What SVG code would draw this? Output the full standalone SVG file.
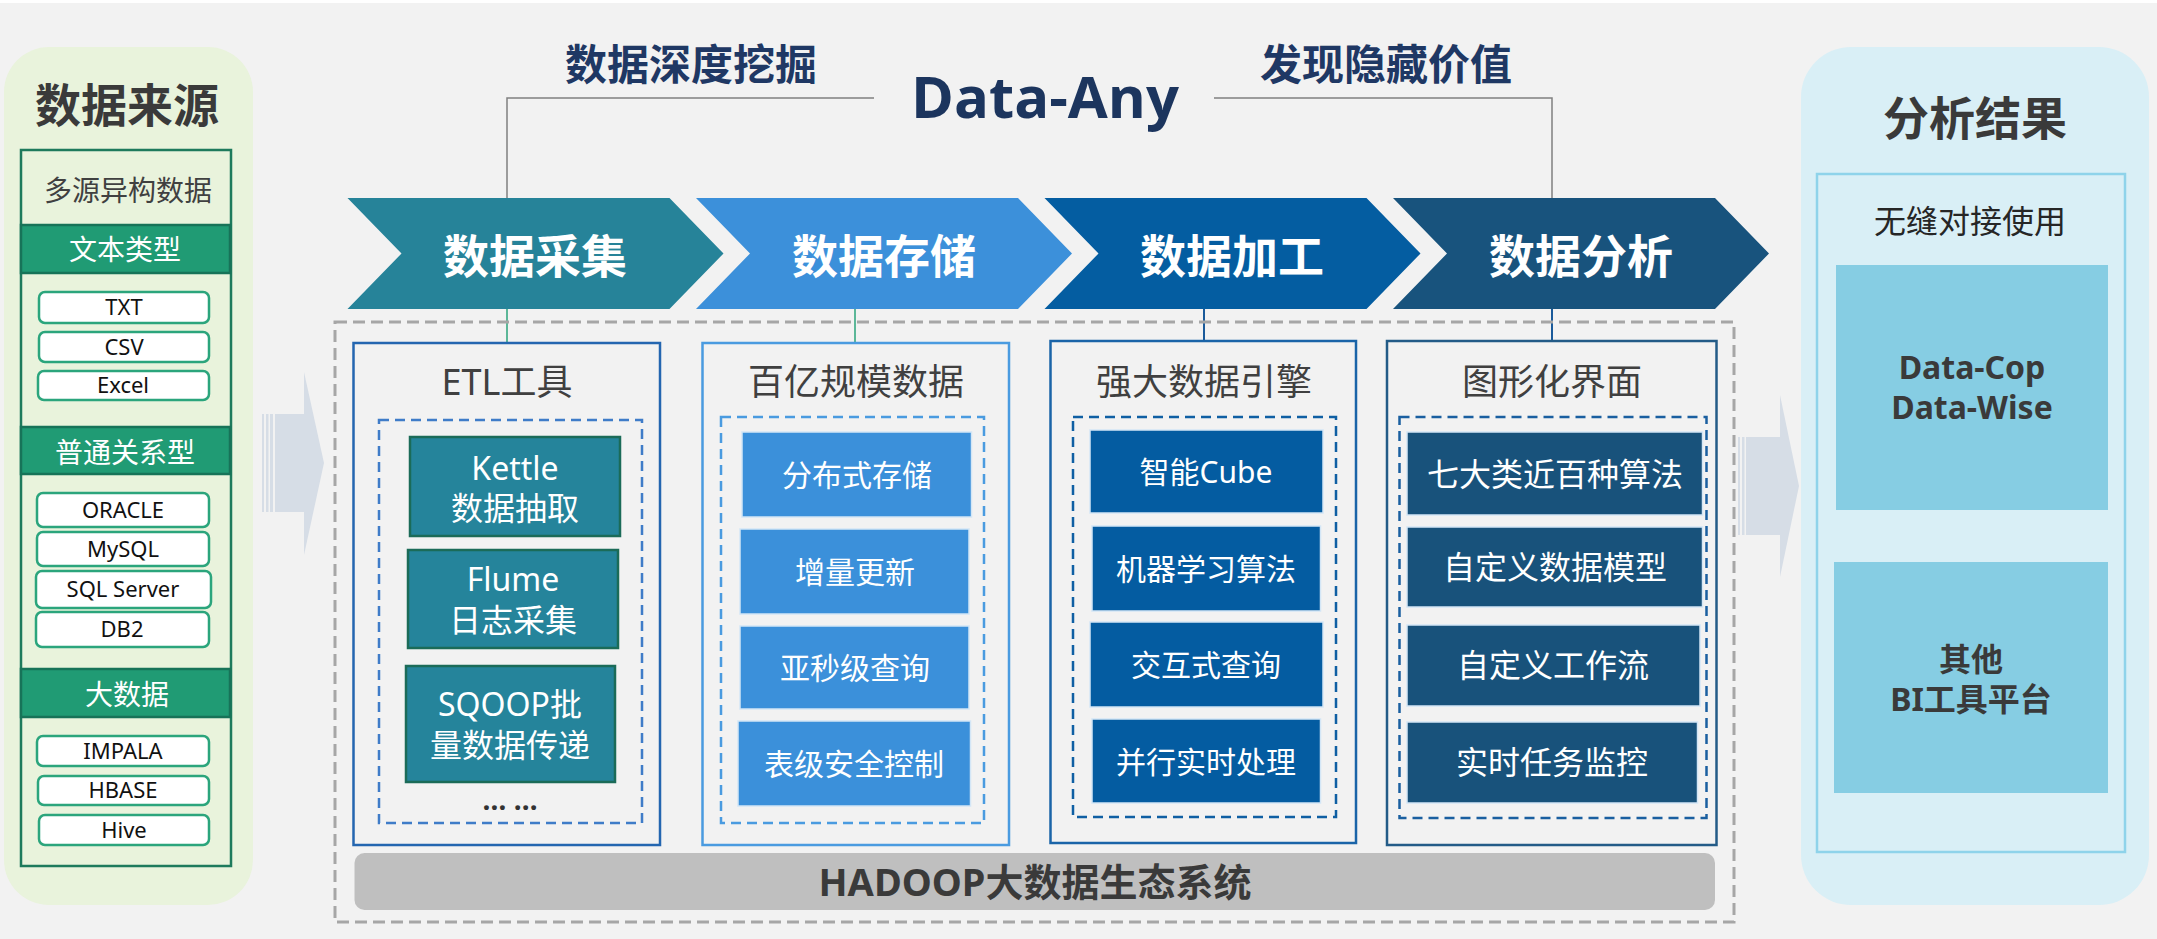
<svg xmlns="http://www.w3.org/2000/svg" width="2157" height="939" viewBox="0 0 2157 939">
<style>
text{font-family:"Noto Sans","Noto Sans CJK SC",sans-serif;text-anchor:middle}
.b{font-weight:bold}
.ttl{font-size:46px;font-weight:bold;fill:#3a3a3a}
.hd{font-size:42px;font-weight:bold;fill:#1f3864}
.chev{font-size:46px;font-weight:bold;fill:#ffffff}
.ctitle{font-size:36px;fill:#404040}
.it{fill:#ffffff;stroke:#2ba57c;stroke-width:2.5}
.itt{font-size:22px;fill:#111111}
.band{fill:#209b74;stroke:#177358;stroke-width:2.5}
.bandt{font-size:28px;fill:#ffffff}
.w30{font-size:30px;fill:#ffffff}
.w32{font-size:32px;fill:#ffffff}
.c1{fill:#25849b;stroke:#1b6b58;stroke-width:2.5}
.c2{fill:#3b90da;stroke:#d3e6f6;stroke-width:1.5}
.c3{fill:#045ca1;stroke:#d3e6f6;stroke-width:1.5}
.c4{fill:#18527b;stroke:#d3e6f6;stroke-width:1.5}
.arrow{fill:#d6dde6}
.rb{fill:#86cde3}
.rbt{font-size:32px;font-weight:bold;fill:#3a3a3a}
</style>
<rect width="2157" height="939" fill="#f2f2f2"/>
<rect width="2157" height="3" fill="#ffffff"/>

<g id="connectors">
<polyline points="874,98 507,98 507,198" fill="none" stroke="#808080" stroke-width="1.5"/>
<polyline points="1214,98 1552,98 1552,198" fill="none" stroke="#808080" stroke-width="1.5"/>
<line x1="507" y1="309" x2="507" y2="343" stroke="#2aa37a" stroke-width="1.5"/>
<line x1="855" y1="309" x2="855" y2="343" stroke="#2aa37a" stroke-width="1.5"/>
<line x1="1204" y1="309" x2="1204" y2="341" stroke="#1a5a9a" stroke-width="2"/>
<line x1="1552" y1="309" x2="1552" y2="341" stroke="#1a5a9a" stroke-width="2"/>
</g>

<g id="title">
<text class="hd" x="691" y="80">数据深度挖掘</text>
<text x="1045" y="118" style="font-family:'Open Sans','Noto Sans',sans-serif;font-size:58px;font-weight:bold;fill:#1c355e">Data-Any</text>
<text class="hd" x="1386" y="80">发现隐藏价值</text>
</g>

<g id="source-panel">
<rect x="4" y="47" width="249" height="858" rx="45" fill="#e9f3dc"/>
<text class="ttl" x="127" y="122">数据来源</text>
<rect x="21" y="150" width="210" height="716" fill="none" stroke="#1e7a5c" stroke-width="2.5"/>
<text x="128" y="201" style="font-size:28px;fill:#404040">多源异构数据</text>
<rect class="band" x="21" y="225" width="209" height="48"/>
<text class="bandt" x="125" y="260">文本类型</text>
<rect class="it" x="39" y="292" width="170" height="31" rx="6"/><text class="itt" x="124" y="315">TXT</text>
<rect class="it" x="39" y="332" width="170" height="30" rx="6"/><text class="itt" x="124" y="355">CSV</text>
<rect class="it" x="38" y="371" width="171" height="29" rx="6"/><text class="itt" x="123" y="393">Excel</text>
<rect class="band" x="21" y="427" width="209" height="47"/>
<text class="bandt" x="125" y="463">普通关系型</text>
<rect class="it" x="37" y="493" width="172" height="34" rx="6"/><text class="itt" x="123" y="518">ORACLE</text>
<rect class="it" x="37" y="532" width="172" height="34" rx="6"/><text class="itt" x="123" y="557">MySQL</text>
<rect class="it" x="36" y="571" width="175" height="37" rx="6"/><text class="itt" x="123" y="597">SQL Server</text>
<rect class="it" x="36" y="612" width="173" height="35" rx="6"/><text class="itt" x="122" y="637">DB2</text>
<rect class="band" x="21" y="669" width="209" height="48"/>
<text class="bandt" x="127" y="705">大数据</text>
<rect class="it" x="37" y="736" width="172" height="30" rx="6"/><text class="itt" x="123" y="759">IMPALA</text>
<rect class="it" x="38" y="776" width="171" height="29" rx="6"/><text class="itt" x="123" y="798">HBASE</text>
<rect class="it" x="39" y="815" width="170" height="30" rx="6"/><text class="itt" x="124" y="838">Hive</text>
</g>

<g id="arrow-left">
<rect class="arrow" x="262" y="414" width="2" height="98"/>
<rect class="arrow" x="266" y="414" width="2.5" height="98"/>
<rect class="arrow" x="270" y="414" width="3" height="98"/>
<polygon class="arrow" points="275,414 304,414 304,372 324,463 304,555 304,512 275,512"/>
</g>
<g id="arrow-right">
<rect class="arrow" x="1738" y="437" width="2" height="98"/>
<rect class="arrow" x="1742" y="437" width="2.5" height="98"/>
<polygon class="arrow" points="1746,437 1780,437 1780,395 1799,486 1780,577 1780,535 1746,535"/>
</g>

<g id="platform-frame">
<rect x="335" y="322" width="1399" height="600" fill="none" stroke="#a6a6a6" stroke-width="3" stroke-dasharray="12 6"/>
</g>

<g id="chevron-1">
<polygon points="347.5,198 669.5,198 723.5,253.5 669.5,309 347.5,309 401.5,253.5" fill="#268399"/>
<text class="chev" x="535" y="273">数据采集</text>
</g>
<g id="chevron-2">
<polygon points="696,198 1018,198 1072,253.5 1018,309 696,309 750,253.5" fill="#3c90da"/>
<text class="chev" x="884" y="273">数据存储</text>
</g>
<g id="chevron-3">
<polygon points="1044.5,198 1366.5,198 1420.5,253.5 1366.5,309 1044.5,309 1098.5,253.5" fill="#045da1"/>
<text class="chev" x="1232" y="273">数据加工</text>
</g>
<g id="chevron-4">
<polygon points="1393,198 1715,198 1769,253.5 1715,309 1393,309 1447,253.5" fill="#18537d"/>
<text class="chev" x="1581" y="273">数据分析</text>
</g>

<g id="col-etl">
<rect x="353.5" y="343" width="306.5" height="502" fill="none" stroke="#2466b0" stroke-width="2.5"/>
<text class="ctitle" x="507" y="395">ETL工具</text>
<rect x="379" y="420" width="263" height="403" fill="none" stroke="#3f7cc8" stroke-width="2.5" stroke-dasharray="10 6"/>
<rect class="c1" x="410" y="437" width="210" height="99"/>
<text class="w32" x="515" y="480">Kettle</text>
<text class="w32" x="515" y="520">数据抽取</text>
<rect class="c1" x="408" y="550" width="210" height="98"/>
<text class="w32" x="513" y="591">Flume</text>
<text class="w32" x="513" y="632">日志采集</text>
<rect class="c1" x="406" y="666" width="209" height="116"/>
<text class="w32" x="510" y="716">SQOOP批</text>
<text class="w32" x="510" y="757">量数据传递</text>
<text x="510" y="810" style="font-size:28px;font-weight:bold;fill:#333333">… …</text>
</g>

<g id="col-storage">
<rect x="702.5" y="343" width="306.5" height="502" fill="none" stroke="#4a9be0" stroke-width="2.5"/>
<text class="ctitle" x="856" y="395">百亿规模数据</text>
<rect x="721" y="417" width="263" height="406" fill="none" stroke="#4a9be0" stroke-width="2.5" stroke-dasharray="10 6"/>
<rect class="c2" x="742" y="432" width="229.5" height="85"/>
<text class="w30" x="857" y="486">分布式存储</text>
<rect class="c2" x="740" y="529" width="229" height="85"/>
<text class="w30" x="855" y="583">增量更新</text>
<rect class="c2" x="740" y="626" width="229" height="83"/>
<text class="w30" x="855" y="679">亚秒级查询</text>
<rect class="c2" x="738" y="721" width="232.5" height="85"/>
<text class="w30" x="854" y="775">表级安全控制</text>
</g>

<g id="col-engine">
<rect x="1050.5" y="341" width="305.5" height="502" fill="none" stroke="#1a64a8" stroke-width="2.5"/>
<text class="ctitle" x="1204" y="395">强大数据引擎</text>
<rect x="1073" y="417" width="263" height="400" fill="none" stroke="#0f5fa3" stroke-width="2.5" stroke-dasharray="10 6"/>
<rect class="c3" x="1090" y="430" width="233" height="83"/>
<text class="w30" x="1206" y="483">智能Cube</text>
<rect class="c3" x="1092" y="526" width="228.5" height="85"/>
<text class="w30" x="1206" y="580">机器学习算法</text>
<rect class="c3" x="1090" y="622" width="233" height="85"/>
<text class="w30" x="1206" y="676">交互式查询</text>
<rect class="c3" x="1092" y="719" width="228.5" height="84"/>
<text class="w30" x="1206" y="773">并行实时处理</text>
</g>

<g id="col-gui">
<rect x="1387" y="341" width="329.5" height="504" fill="none" stroke="#235b87" stroke-width="2.5"/>
<text class="ctitle" x="1552" y="395">图形化界面</text>
<rect x="1399.5" y="417" width="307" height="401" fill="none" stroke="#1a5fa0" stroke-width="2.5" stroke-dasharray="10 6"/>
<rect class="c4" x="1407" y="432" width="295.5" height="83"/>
<text class="w32" x="1555" y="486">七大类近百种算法</text>
<rect class="c4" x="1407" y="527" width="295.5" height="80"/>
<text class="w32" x="1555" y="579">自定义数据模型</text>
<rect class="c4" x="1407" y="625" width="293" height="81"/>
<text class="w32" x="1553" y="677">自定义工作流</text>
<rect class="c4" x="1407" y="722" width="290.5" height="81"/>
<text class="w32" x="1552" y="774">实时任务监控</text>
</g>

<g id="hadoop">
<rect x="354.5" y="853" width="1360.5" height="57" rx="10" fill="#bfbfbf"/>
<text x="1035" y="896" style="font-size:38px;font-weight:bold;fill:#3a3a3a">HADOOP大数据生态系统</text>
</g>

<g id="result-panel">
<rect x="1801" y="47" width="348" height="858" rx="50" fill="#d9eff6"/>
<text class="ttl" x="1975" y="135">分析结果</text>
<rect x="1817" y="174" width="308" height="678" fill="none" stroke="#8ed3ea" stroke-width="2.5"/>
<text x="1970" y="233" style="font-size:32px;fill:#262626">无缝对接使用</text>
<rect class="rb" x="1836" y="265" width="272" height="245"/>
<text class="rbt" x="1972" y="379">Data-Cop</text>
<text class="rbt" x="1972" y="419">Data-Wise</text>
<rect class="rb" x="1834" y="562" width="274" height="231"/>
<text class="rbt" x="1971" y="671">其他</text>
<text class="rbt" x="1971" y="711">BI工具平台</text>
</g>
</svg>
